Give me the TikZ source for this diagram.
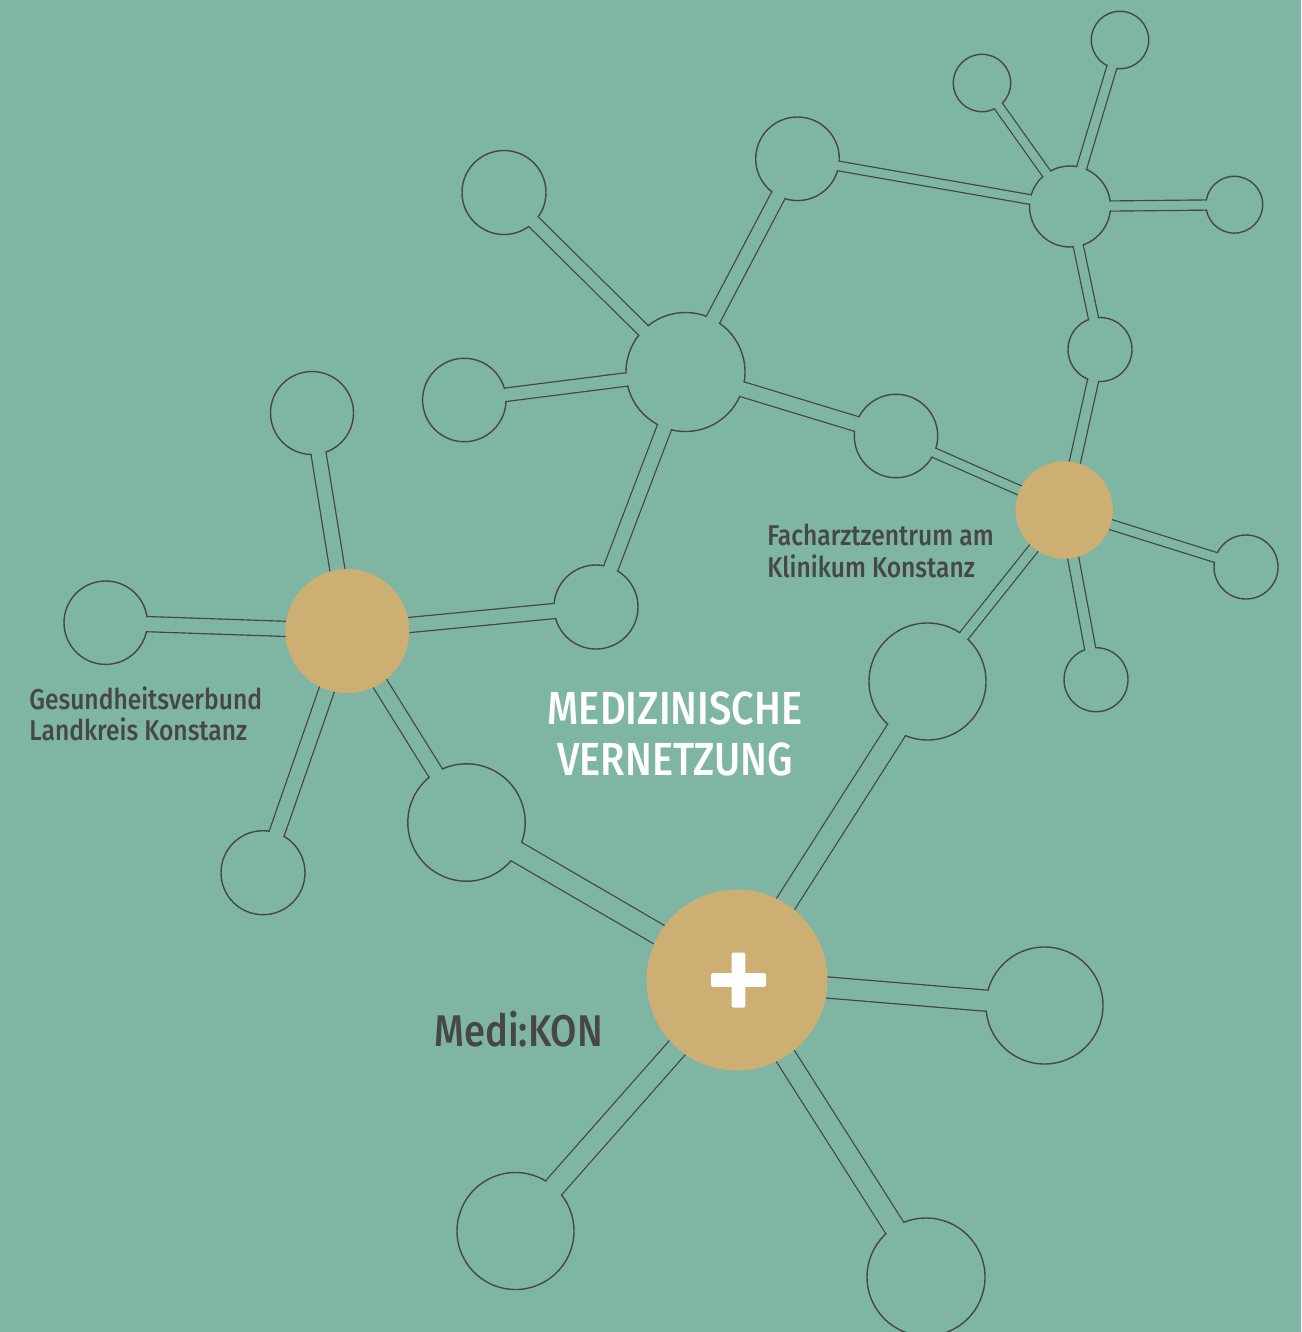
\documentclass[tikz,border=0pt]{standalone}
\usepackage{fontspec}
\newfontfamily\dinfont{Fira Sans Medium}[FakeStretch=0.86]
\usetikzlibrary{positioning, calc}
\definecolor{sea}{HTML}{7EB5A3}
\definecolor{sand}{HTML}{CDAF74}
\definecolor{ink}{HTML}{474747}
\pgfdeclarelayer{paper}
\pgfdeclarelayer{links}
\pgfdeclarelayer{front}
\pgfsetlayers{paper,links,main,front}

\begin{document}
\begin{tikzpicture}[
		x=0.5pt, y=-0.5pt,
		ringnode/.style={circle, draw=ink, line width=0.7pt, fill=sea, inner sep=0pt, minimum size=#1pt},
		goldnode/.style={circle, fill=sand, inner sep=0pt, minimum size=#1pt},
		link/.style={draw=ink, line width=0.7pt, double=sea, double distance=#1},
		linkgap/.style={draw=sea, line width=#1},
		caption/.style={text=ink, inner sep=0pt, font=\dinfont\fontsize{14.3}{16}\selectfont},
		headline/.style={text=white, inner sep=0pt, font=\dinfont\fontsize{23.2}{26}\selectfont},
	]
		\begin{pgfonlayer}{paper}
			\fill[sea] (0,0) rectangle (1301,1332);
		\end{pgfonlayer}
		\useasboundingbox (0,0) rectangle (1301,1332);

		%Nodes (size = radius in px)
		\node (A) [ringnode=28.7] at (1120,40) {};
		\node (B) [ringnode=28.7] at (982,83) {};
		\node (C) [ringnode=40.5] at (1070,206.5) {};
		\node (D) [ringnode=28.4] at (1234.3,204.7) {};
		\node (E) [ringnode=41.8] at (797.5,158.8) {};
		\node (F) [ringnode=42] at (504,192.5) {};
		\node (G) [ringnode=59.5] at (685.5,372) {};
		\node (H) [ringnode=41.7] at (464.3,400) {};
		\node (I) [ringnode=41.7] at (896,436) {};
		\node (J) [ringnode=32] at (1100,349.5) {};
		\node (L) [ringnode=32] at (1246,567) {};
		\node (M) [ringnode=32] at (1096,679.7) {};
		\node (N) [ringnode=58.5] at (927.5,681.5) {};
		\node (O) [ringnode=42] at (596,607) {};
		\node (Q) [ringnode=41.5] at (312,413) {};
		\node (R) [ringnode=41.7] at (105.7,622.7) {};
		\node (S) [ringnode=42] at (263,872.7) {};
		\node (T) [ringnode=58.7] at (466.5,822.5) {};
		\node (V) [ringnode=58.5] at (1044.5,1005.5) {};
		\node (W) [ringnode=58.5] at (515.5,1231) {};
		\node (X) [ringnode=59] at (926,1277) {};

		\begin{pgfonlayer}{front}
			\node (K) [goldnode=48.7] at (1064.2,510) {};
			\node (P) [goldnode=62] at (347.3,631) {};
			\node (U) [goldnode=90.5] at (737,980) {};
			\fill[white, rounded corners=1pt] ($(U)+(-26,-6.8)$) rectangle ($(U)+(29,6.8)$);
			\fill[white, rounded corners=1pt] ($(U)+(-5.3,-27.5)$) rectangle ($(U)+(8.3,27.5)$);
		\end{pgfonlayer}

		%Lines
		\foreach \a/\b/\g in {C/A/10, C/B/9.5, C/D/10, C/E/9.5, C/J/10, J/K/11,
				I/K/9.5, K/L/10, K/M/11, K/N/10.5,
				G/E/14.7, G/F/13.3, G/H/13.3, G/I/15, G/O/14.7,
				P/O/15, P/Q/15, P/R/15, P/S/15.5, P/T/15.5,
				U/N/21, U/T/21, U/V/21, U/W/21, U/X/21}{
			\pgfmathsetmacro\dd{\g*0.5-0.7}
			\begin{pgfonlayer}{links}
				\draw[link=\dd pt] (\a.center) -- (\b.center);
			\end{pgfonlayer}
			\draw[linkgap=\dd pt] (\a.center) -- (\b.center);
		}

		%Texts
		\node (title1) [headline, anchor=base] at (675,724) {MEDIZINISCHE};
		\node (title2) [headline, anchor=base] at (675,775) {VERNETZUNG};
		\node (gvb1) [caption, anchor=base west] at (29,709) {Gesundheitsverbund};
		\node (gvb2) [caption, anchor=base west] at (29,740) {Landkreis Konstanz};
		\node (fz1) [caption, anchor=base west] at (767,545) {Facharztzentrum am};
		\node (fz2) [caption, anchor=base west] at (767,577) {Klinikum Konstanz};
		\node (medikon) [caption, anchor=base west, font=\dinfont\fontsize{22.2}{24}\selectfont] at (434,1046.5) {Medi:KON};
	\end{tikzpicture}
\end{document}
